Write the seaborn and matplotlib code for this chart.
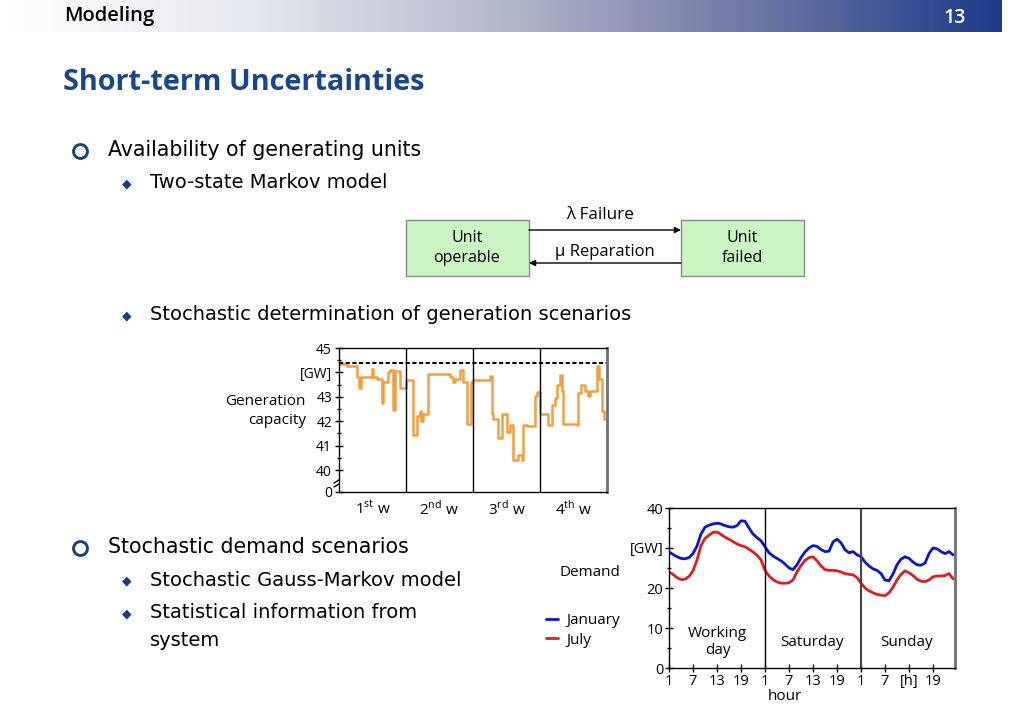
import numpy as np
import pandas as pd
import seaborn as sns
import matplotlib
matplotlib.use("Agg")
import matplotlib.pyplot as plt
from matplotlib.colors import LinearSegmentedColormap
from matplotlib.patches import Rectangle
from matplotlib.lines import Line2D

# generation capacity, step series: day where a level starts, level in GW
cap_day = [0.0, 0.8, 1.85, 2.12, 2.26, 3.41, 3.59, 3.94, 4.46, 4.63, 5.15, 5.33, 5.68, 5.89, 6.37,
           6.97, 7.77, 8.12, 8.46, 8.57, 8.81, 9.33, 11.6, 11.95, 12.12, 12.64, 12.92, 13.41, 13.76,
           14.04, 15.78, 15.95, 16.13, 16.65, 17.0, 17.59, 17.87, 18.22, 18.74, 19.09, 19.26, 19.61, 20.48, 20.65,
           21.0, 21.87, 22.22, 22.57, 22.81, 23.09, 23.27, 23.44, 24.83, 25.0, 25.25, 25.7, 26.05, 26.22,
           26.92, 27.2, 27.48, 27.65]
cap_gw = [44.35, 44.25, 43.8, 43.35, 43.8, 44.15, 43.8, 43.75, 42.75, 43.6, 44.0, 44.1, 42.45, 44.05, 43.35,
          43.7, 41.45, 42.2, 42.4, 42.0, 42.3, 43.95, 43.8, 43.6, 43.75, 44.1, 43.6, 41.9, 43.6,
          43.7, 43.85, 42.3, 42.1, 41.3, 42.3, 41.55, 41.85, 40.4, 40.6, 40.4, 41.85, 41.8, 43.05, 43.2,
          42.3, 41.85, 42.65, 42.95, 43.5, 43.9, 43.25, 41.9, 41.85, 43.15, 43.5, 43.25, 43.05, 43.25,
          44.25, 43.75, 42.4, 42.1]
installed_gw = 44.4
week_labels = [r"1$^{\mathrm{st}}$ w", r"2$^{\mathrm{nd}}$ w", r"3$^{\mathrm{rd}}$ w", r"4$^{\mathrm{th}}$ w"]

# hourly demand over three days (working day, Saturday, Sunday)
hours = list(range(1, 73))
january = [29.0, 28.4, 27.8, 27.4, 27.3, 27.6, 28.6, 30.5, 33.5, 35.2, 35.7, 36.0, 36.2, 36.0, 35.6, 35.3,
           35.2, 35.6, 36.8, 36.7, 35.0, 33.5, 32.6, 31.8,
           30.3, 28.8, 28.0, 27.4, 26.8, 26.0, 25.0, 24.6, 25.8, 27.6, 29.0, 30.0, 30.6, 30.4, 29.6, 29.1,
           29.2, 31.5, 32.2, 31.3, 29.6, 28.8, 29.1, 28.3,
           27.8, 26.5, 25.5, 24.8, 24.4, 23.6, 22.0, 21.8, 23.5, 25.8, 27.2, 27.8, 27.4, 26.5, 25.8, 25.7,
           26.2, 28.6, 30.0, 29.8, 29.1, 28.6, 29.1, 28.3]
july = [24.0, 23.4, 22.6, 22.1, 22.2, 22.9, 24.3, 27.0, 30.6, 32.4, 33.2, 33.9, 34.0, 33.4, 32.7, 32.2,
        31.6, 31.0, 30.6, 30.3, 29.7, 29.0, 28.2, 27.0,
        24.4, 23.0, 22.1, 21.5, 21.2, 21.2, 21.3, 22.0, 24.0, 25.6, 26.9, 27.6, 27.8, 26.8, 25.5, 24.6,
        24.4, 24.4, 24.3, 24.0, 23.6, 23.4, 23.3, 22.6,
        21.2, 20.0, 19.3, 18.8, 18.4, 18.2, 18.1, 18.8, 20.2, 22.0, 23.4, 24.3, 23.8, 23.1, 22.2, 21.7,
        21.6, 22.0, 22.8, 23.0, 23.0, 23.1, 23.6, 22.3]
hour_ticks = [1, 7, 13, 19, 25, 31, 37, 43, 49, 55, 61, 67]
hour_labels = ["1", "7", "13", "19", "1", "7", "13", "19", "1", "7", "[h]", "19"]
day_names = ["Working\nday", "Saturday", "Sunday"]

sns.set_theme(style="ticks")
plt.rcParams["font.family"] = ["Open Sans", "DejaVu Sans"]
plt.rcParams["mathtext.fontset"] = "custom"
plt.rcParams["mathtext.rm"] = "Open Sans"
for k in ["text.color", "axes.labelcolor", "xtick.color", "ytick.color"]:
    plt.rcParams[k] = "black"

W, H = 1030, 728
NAVY = "#1a3f80"
BODY = ["DejaVu Sans"]
fig = plt.figure(figsize=(10.3, 7.28), dpi=100)


def box(l, t, r, b):
    return [l / W, 1 - b / H, (r - l) / W, (b - t) / H]


# slide background / text layer in pixel coordinates
ax0 = fig.add_axes([0, 0, 1, 1])
ax0.set_xlim(0, W)
ax0.set_ylim(H, 0)
ax0.axis("off")

cmap = LinearSegmentedColormap.from_list("hdr", ["#ffffff", "#e6e8ef", "#b4b8cc", "#6f78a6", "#1c3b8a"])
ax0.imshow(np.linspace(0, 1, 300)[None, :], extent=[0, 1002, 32, 0], cmap=cmap, aspect="auto")
ax0.text(64, 16, "Modeling", fontsize=14.5, weight="semibold", va="center")
ax0.text(955, 18, "13", fontsize=14, weight="semibold", color="white", ha="center", va="center")
ax0.text(63, 82, "Short-term Uncertainties", fontsize=20.8, weight="bold", color="#17468c", va="center")


def bullet(y, text, level=1):
    if level == 1:
        ax0.plot(80, y + 1, marker="o", ms=10, mfc="white", mec=NAVY, mew=2.1)
        ax0.text(108, y, text, fontsize=14.8, va="center", family=BODY)
    else:
        ax0.text(127, y + 1, "\u25c6", fontsize=9, color=NAVY, ha="center", va="center", family="DejaVu Sans")
        ax0.text(150, y, text, fontsize=14, va="center", linespacing=1.6, family=BODY)


bullet(150, "Availability of generating units")
bullet(183, "Two-state Markov model", 2)
bullet(315, "Stochastic determination of generation scenarios", 2)
bullet(547, "Stochastic demand scenarios")
bullet(580, "Stochastic Gauss-Markov model", 2)
ax0.text(127, 614, "\u25c6", fontsize=9, color=NAVY, ha="center", va="center", family="DejaVu Sans")
ax0.text(150, 627, "Statistical information from\nsystem", fontsize=14, va="center", linespacing=1.6, family=BODY)

# two-state Markov diagram
for l, lab in [(406, "Unit\noperable"), (681, "Unit\nfailed")]:
    ax0.add_patch(Rectangle((l, 220), 123, 56, facecolor="#ccf5c4", edgecolor="#8a8a8a", lw=1))
    ax0.text(l + 61, 248, lab, fontsize=11.5, ha="center", va="center", linespacing=1.3)
ax0.annotate("", xy=(681, 230), xytext=(529, 230),
             arrowprops=dict(arrowstyle="-|>", color="black", lw=1, mutation_scale=9, shrinkA=0, shrinkB=0))
ax0.annotate("", xy=(529, 263), xytext=(681, 263),
             arrowprops=dict(arrowstyle="-|>", color="black", lw=1, mutation_scale=9, shrinkA=0, shrinkB=0))
ax0.text(600, 215, "\u03bb Failure", fontsize=12.3, ha="center", va="center")
ax0.text(605, 252, "\u03bc Reparation", fontsize=12, ha="center", va="center")

# generation capacity chart
cap = pd.DataFrame({"day": cap_day + [28.0], "gw": cap_gw + [cap_gw[-1]]})
ax1 = fig.add_axes(box(339, 348, 607, 492))
sns.lineplot(data=cap, x="day", y="gw", drawstyle="steps-post", color="#f2a03f", lw=1.8, ax=ax1)
ax1.axhline(installed_gw, color="black", lw=1.5, ls=(0, (2, 1.2)))
for d in [7, 14, 21]:
    ax1.axvline(d, color="black", lw=1)
ax1.set_xlim(0, 28)
ax1.set_ylim(39.1, 45)
ax1.set_xticks([])
ax1.set_yticks([39.1, 40, 41, 42, 43, 44, 45])
ax1.set_yticklabels(["0", "40", "41", "42", "43", "[GW]", "45"])
ax1.set_yticks(np.arange(40.5, 45, 1.0), minor=True)
ax1.tick_params(axis="y", which="major", direction="inout", length=6, width=1, labelsize=10, pad=2)
ax1.tick_params(axis="y", which="minor", direction="inout", length=3, width=1)
ax1.set_xlabel("")
ax1.set_ylabel("")
for s in ["left", "top", "bottom"]:
    ax1.spines[s].set_color("black")
    ax1.spines[s].set_linewidth(1)
ax1.spines["right"].set_color("#707070")
ax1.spines["right"].set_linewidth(2)
for i, lab in enumerate(week_labels):
    ax1.text(i * 7 + 3.5, -0.12, lab, transform=ax1.get_xaxis_transform(), ha="center", va="center", fontsize=11)
# axis break marks
for dy in [0, 4]:
    ax0.add_line(Line2D([334, 344], [487 - dy, 481 - dy], color="black", lw=1))
ax0.text(306, 411, "Generation\ncapacity", fontsize=11, ha="right", va="center", linespacing=1.4)

# demand chart
dem = pd.DataFrame({"hour": hours * 2, "gw": january + july,
                    "month": ["January"] * len(hours) + ["July"] * len(hours)})
ax2 = fig.add_axes(box(669, 508, 955, 668))
sns.lineplot(data=dem, x="hour", y="gw", hue="month", palette={"January": "#0a14c8", "July": "#dc1e1e"},
             lw=2, ax=ax2, legend=False)
ax2.axvline(25, color="black", lw=1)
ax2.axvline(49, color="#444444", lw=1.5)
ax2.set_xlim(1, 72.5)
ax2.set_ylim(0, 40)
ax2.set_xticks(hour_ticks)
ax2.set_xticklabels(hour_labels)
ax2.set_yticks([0, 10, 20, 30, 40])
ax2.set_yticklabels(["0", "10", "20", "[GW]", "40"])
ax2.set_yticks([5, 15, 25, 35], minor=True)
ax2.tick_params(axis="both", which="major", direction="inout", length=6, width=1, labelsize=10.5, pad=1)
ax2.tick_params(axis="y", which="minor", direction="inout", length=3, width=1)
ax2.set_xlabel("")
ax2.set_ylabel("")
for s in ["left", "top", "bottom"]:
    ax2.spines[s].set_color("black")
    ax2.spines[s].set_linewidth(1)
ax2.spines["right"].set_color("#707070")
ax2.spines["right"].set_linewidth(2)
for xh, name in zip([13.2, 36.7, 60.3], day_names):
    ax2.text(xh, 6.5, name, ha="center", va="center", fontsize=11, linespacing=1.2)
ax0.text(785, 697, "hour", fontsize=11, ha="center", va="center")
ax0.text(590, 573, "Demand", fontsize=11, ha="center", va="center")
handles = [Line2D([], [], color="#0a14c8", lw=2), Line2D([], [], color="#dc1e1e", lw=2)]
fig.legend(handles, ["January", "July"], loc="upper left", bbox_to_anchor=(540 / W, 1 - 607 / H),
           frameon=False, fontsize=11, handlelength=0.8, handletextpad=0.5, labelspacing=0.3, borderaxespad=0)

fig.savefig("out.png", dpi=100)
